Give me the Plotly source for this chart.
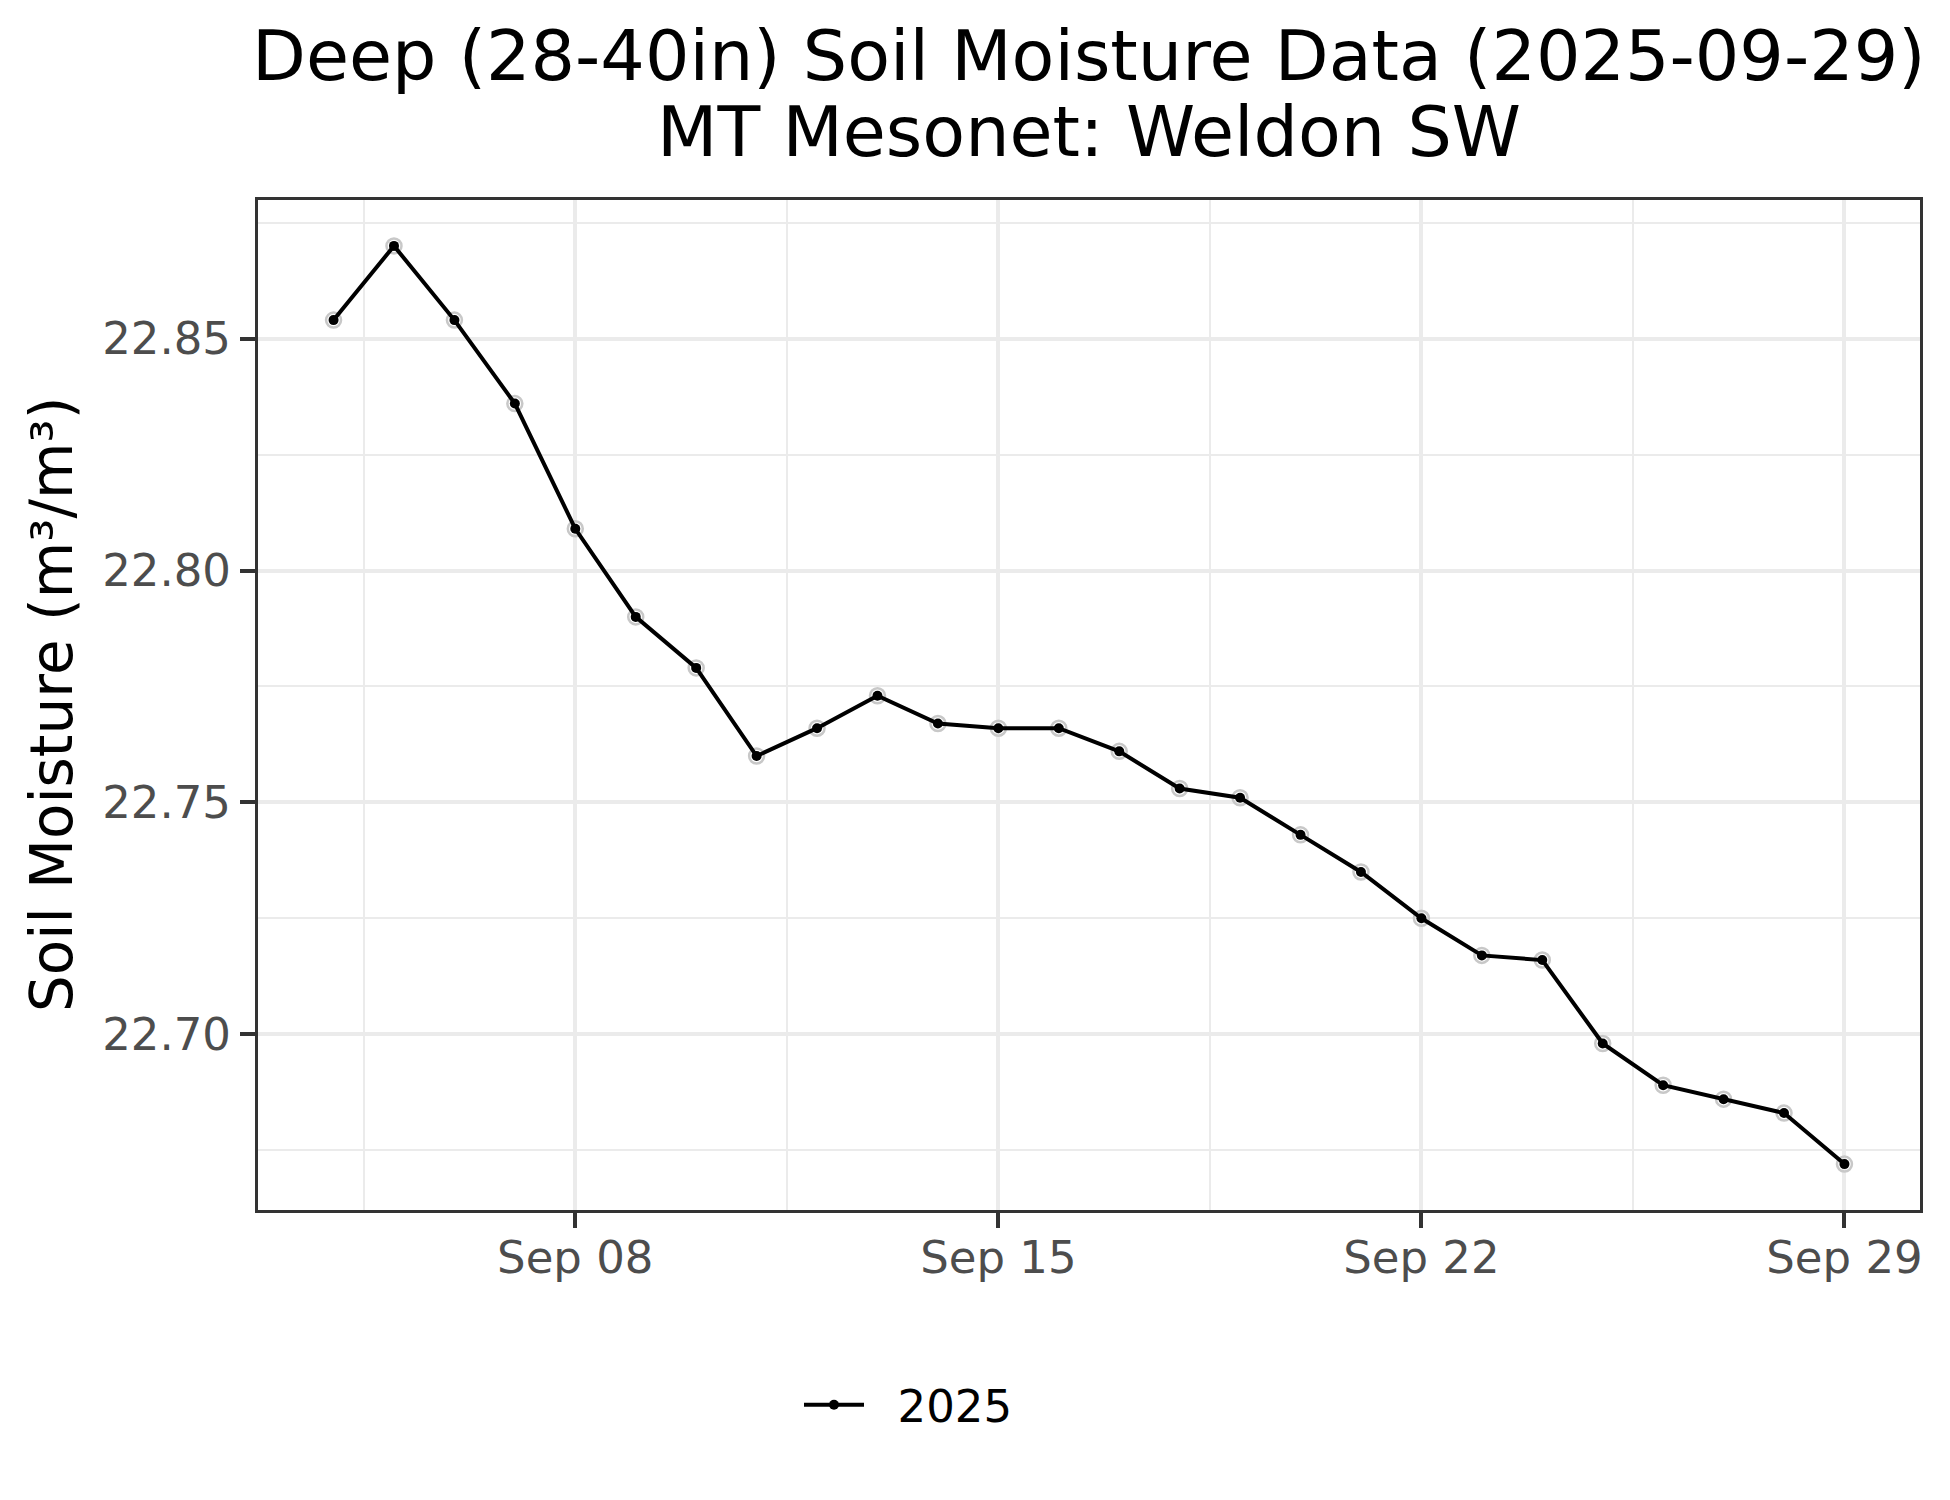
import plotly.graph_objects as go

# ---- data ----
dates = [
    "2025-09-04", "2025-09-05", "2025-09-06", "2025-09-07", "2025-09-08",
    "2025-09-09", "2025-09-10", "2025-09-11", "2025-09-12", "2025-09-13",
    "2025-09-14", "2025-09-15", "2025-09-16", "2025-09-17", "2025-09-18",
    "2025-09-19", "2025-09-20", "2025-09-21", "2025-09-22", "2025-09-23",
    "2025-09-24", "2025-09-25", "2025-09-26", "2025-09-27", "2025-09-28",
    "2025-09-29",
]
moisture = [
    22.854, 22.870, 22.854, 22.836, 22.809,
    22.790, 22.779, 22.760, 22.766, 22.773,
    22.767, 22.766, 22.766, 22.761, 22.753,
    22.751, 22.743, 22.735, 22.725, 22.717,
    22.716, 22.698, 22.689, 22.686, 22.683,
    22.672,
]
series_name = "2025"
x_tick_vals = ["2025-09-08", "2025-09-15", "2025-09-22", "2025-09-29"]
x_minor_vals = ["2025-09-04 12:00", "2025-09-11 12:00", "2025-09-18 12:00", "2025-09-25 12:00"]
y_tick_vals = [22.70, 22.75, 22.80, 22.85]
y_minor_vals = [22.675, 22.725, 22.775, 22.825, 22.875]
title_line1 = "Deep (28-40in) Soil Moisture Data (2025-09-29)"
title_line2 = "MT Mesonet: Weldon SW"
y_title = "Soil Moisture (m³/m³)"

FONT = "DejaVu Sans"
W, H = 1950, 1500
OFF = 8  # default page body margin
# desired plot-area edges in page pixels
PL, PR, PT, PB = 258, 1920, 200, 1210
L = PL - OFF
T = PT - OFF
R = W + OFF - PR
B = H + OFF - PB


def ypx(p):
    return (PB - p) / (PB - PT)


def xpx(p):
    return (p - PL) / (PR - PL)


fig = go.Figure()
# light grey rings behind the points
fig.add_trace(go.Scatter(
    x=dates, y=moisture, mode="markers", showlegend=False, hoverinfo="skip",
    marker=dict(symbol="circle-open", size=15, color="#C8C8C8", line=dict(color="#C8C8C8", width=2.5)),
))
fig.add_trace(go.Scatter(
    x=dates, y=moisture, name="\u00a0\u00a0" + series_name, mode="lines+markers",
    line=dict(color="black", width=4),
    marker=dict(color="black", size=10, line=dict(width=0)),
))

grid_major = dict(showgrid=True, gridcolor="#EBEBEB", gridwidth=3.5)
fig.update_xaxes(
    type="date",
    range=["2025-09-02 18:00", "2025-09-30 06:00"],
    tickmode="array", tickvals=x_tick_vals, tickformat="%b %d",
    ticks="outside", ticklen=15, tickwidth=3.5, tickcolor="#333333",
    tickfont=dict(family=FONT, size=45, color="#4D4D4D"),
    ticklabelstandoff=-9,
    showline=True, linecolor="#333333", linewidth=3, mirror=True,
    zeroline=False,
    minor=dict(tickvals=x_minor_vals, showgrid=True, gridcolor="#EBEBEB", gridwidth=1.8, ticks=""),
    **grid_major,
)
fig.update_yaxes(
    range=[22.6621, 22.8799],
    tickmode="array", tickvals=y_tick_vals, tickformat=".2f",
    ticks="outside", ticklen=15, tickwidth=3.5, tickcolor="#333333",
    tickfont=dict(family=FONT, size=45, color="#4D4D4D"),
    showline=True, linecolor="#333333", linewidth=3, mirror=True,
    zeroline=False,
    minor=dict(tickvals=y_minor_vals, showgrid=True, gridcolor="#EBEBEB", gridwidth=1.8, ticks=""),
    **grid_major,
)

fig.update_layout(
    width=W, height=H,
    margin=dict(l=L, r=R, t=T, b=B, autoexpand=False),
    paper_bgcolor="white", plot_bgcolor="white",
    font=dict(family=FONT, color="black"),
    showlegend=True,
    legend=dict(
        orientation="h", x=xpx(799), xanchor="left", y=ypx(1405), yanchor="middle",
        font=dict(family=FONT, size=45, color="black"),
        itemwidth=60, bgcolor="rgba(0,0,0,0)",
    ),
    annotations=[
        dict(text=title_line1, xref="paper", yref="paper", x=0.5, y=ypx(56),
             xanchor="center", yanchor="middle", showarrow=False,
             font=dict(family=FONT, size=70, color="black")),
        dict(text=title_line2, xref="paper", yref="paper", x=0.5, y=ypx(132),
             xanchor="center", yanchor="middle", showarrow=False,
             font=dict(family=FONT, size=70, color="black")),
        dict(text=y_title, xref="paper", yref="paper", x=xpx(52), y=0.5,
             xanchor="center", yanchor="middle", textangle=-90, showarrow=False,
             font=dict(family=FONT, size=58, color="black")),
    ],
)

fig.write_html("out.html")
